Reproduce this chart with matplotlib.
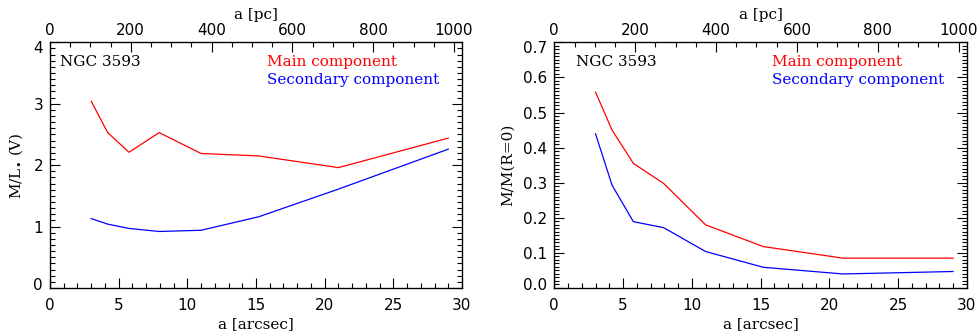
"""Mass-to-light ratio and normalised mass profiles of NGC 3593 (two components)."""

import matplotlib

matplotlib.use("Agg")
import matplotlib.pyplot as plt
from matplotlib.ticker import MultipleLocator
from matplotlib.transforms import ScaledTranslation

# Radii along the major axis, arcsec
radius = [3.0, 4.2, 5.75, 7.95, 11.0, 15.2, 21.0, 29.0]

# M/L_* (V)
ml_main = [3.04, 2.53, 2.21, 2.53, 2.19, 2.15, 1.96, 2.44]
ml_secondary = [1.13, 1.04, 0.97, 0.92, 0.94, 1.16, 1.61, 2.26]

# M / M(R=0)
mnorm_main = [0.558, 0.450, 0.355, 0.298, 0.180, 0.118, 0.085, 0.085]
mnorm_secondary = [0.439, 0.293, 0.189, 0.172, 0.104, 0.059, 0.040, 0.047]

PC_PER_ARCSEC = 34.0  # top axis scale
XMAX = 30

TXT = "DejaVu Serif"
NUM = "DejaVu Sans"

fig = plt.figure(figsize=(9.79, 3.35), dpi=100)

panels = [
    dict(rect=[0.0511, 0.1403, 0.4208, 0.7334], main=ml_main, sec=ml_secondary,
         ylim=(0, 4), major=1, minor=0.1, fmt="{:.0f}",
         ylabel=r"M/L$_{\bullet}$ (V)", name_x=0.024),
    dict(rect=[0.5662, 0.1403, 0.4213, 0.7334], main=mnorm_main, sec=mnorm_secondary,
         ylim=(0, 0.7), major=0.1, minor=0.01, fmt="{:.1f}",
         ylabel="M/M(R=0)", name_x=0.052),
]

for p in panels:
    ax = fig.add_axes(p["rect"])
    ax.plot(radius, p["main"], color="#ff0000", lw=0.9)
    ax.plot(radius, p["sec"], color="#0000ff", lw=0.9)

    ax.set_xlim(0, XMAX)
    ax.set_ylim(*p["ylim"])
    ax.xaxis.set_major_locator(MultipleLocator(5))
    ax.xaxis.set_minor_locator(MultipleLocator(1))
    ax.yaxis.set_major_locator(MultipleLocator(p["major"]))
    ax.yaxis.set_minor_locator(MultipleLocator(p["minor"]))
    ax.yaxis.set_major_formatter(lambda v, pos, f=p["fmt"]: f.format(v))

    ax.tick_params(which="both", direction="in", right=True, top=False,
                   labelsize=11, width=0.8)
    ax.tick_params(axis="x", pad=7)
    ax.tick_params(axis="y", pad=5)
    ax.tick_params(which="major", length=7)
    ax.tick_params(which="minor", length=3.5)
    for lab in ax.get_xticklabels() + ax.get_yticklabels():
        lab.set_family(NUM)
    for s in ax.spines.values():
        s.set_linewidth(0.9)

    ax.set_xlabel("a [arcsec]", family=TXT, fontsize=11, labelpad=3)
    ax.set_ylabel(p["ylabel"], family=TXT, fontsize=11, labelpad=6)

    # IDL keeps the end labels inside the frame
    for lab, v in zip(ax.get_yticklabels(), ax.get_yticks()):
        if abs(v - p["ylim"][1]) < 1e-9:
            lab.set_transform(lab.get_transform() + ScaledTranslation(0, -5 / 100, fig.dpi_scale_trans))
        elif abs(v - p["ylim"][0]) < 1e-9:
            lab.set_transform(lab.get_transform() + ScaledTranslation(0, 4 / 100, fig.dpi_scale_trans))

    top = ax.twiny()
    top.set_xlim(0, XMAX * PC_PER_ARCSEC)
    top.xaxis.set_major_locator(MultipleLocator(200))
    top.xaxis.set_minor_locator(MultipleLocator(50))
    top.tick_params(which="both", direction="in", labelsize=11, width=0.8, pad=3)
    top.tick_params(which="major", length=7)
    top.tick_params(which="minor", length=3.5)
    for lab in top.get_xticklabels():
        lab.set_family(NUM)
    top.set_xlabel("a [pc]", family=TXT, fontsize=11, labelpad=3)

    ax.text(p["name_x"], 0.92, "NGC 3593", transform=ax.transAxes,
            family=TXT, fontsize=11, va="center", ha="left")
    ax.text(0.527, 0.92, "Main component", transform=ax.transAxes,
            family=TXT, fontsize=11, va="center", ha="left", color="#ff0000")
    ax.text(0.527, 0.847, "Secondary component", transform=ax.transAxes,
            family=TXT, fontsize=11, va="center", ha="left", color="#0000ff")

fig.savefig("out.png", dpi=100)
